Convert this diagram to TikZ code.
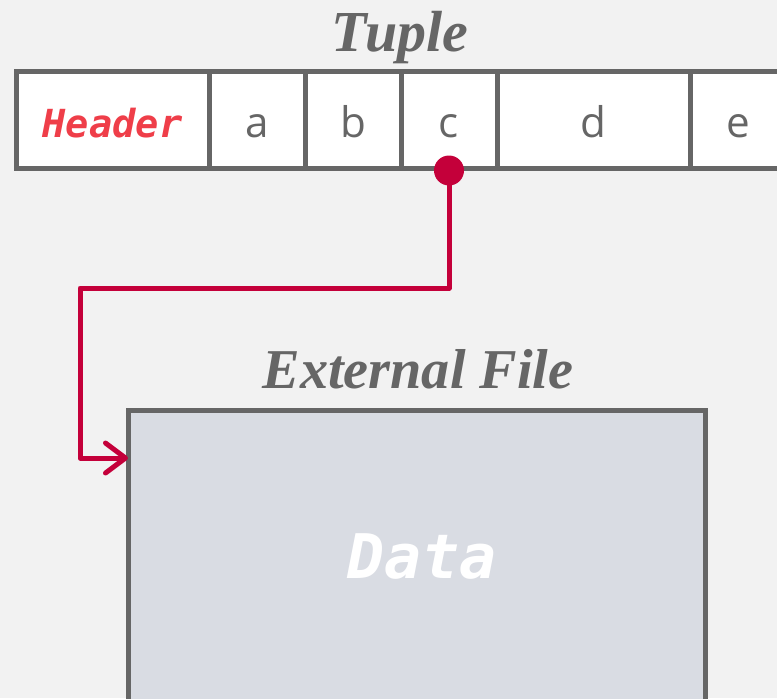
\documentclass[tikz,border=0pt]{standalone}
\usepackage{fontspec}
\setmainfont{Liberation Serif}
\setsansfont{Open Sans}
\setmonofont{DejaVu Sans Mono}[ItalicFont={DejaVu Sans Mono Oblique}, BoldItalicFont={DejaVu Sans Mono Bold Oblique}]
\usetikzlibrary{arrows.meta, positioning, calc}
\definecolor{bggray}{HTML}{F2F2F2}
\definecolor{linegray}{HTML}{666666}
\definecolor{headred}{HTML}{EF3E49}
\definecolor{ptrred}{HTML}{C4003A}
\definecolor{filefill}{HTML}{D9DCE3}

\begin{document}
\begin{tikzpicture}[>={Straight Barb[length=4mm, width=6mm, round]},
  cell/.style={draw=linegray, line width=0.1cm, fill=white, minimum height=1.92cm,
    minimum width=1.92cm, inner sep=0pt, text height=20pt, text depth=0pt,
    text=linegray, font=\sffamily\fontsize{24}{24}\selectfont},
  widecell/.style={cell, minimum width=3.86cm},
  titletext/.style={text=linegray, font=\bfseries\itshape\fontsize{33}{33}\selectfont},
  ptr/.style={draw=ptrred, line width=0.1cm, line join=round}]
% Hintergrund
\useasboundingbox (0,0) rectangle (15.54,13.96);
\fill[bggray] (0,0) rectangle (15.54,13.96);
\clip (0,0) rectangle (15.54,13.96);
% Tupel
\node[titletext, anchor=base] (tupletitle) at (8.0,12.92) {Tuple};
\node[widecell, text=headred, font=\ttfamily\bfseries\itshape\fontsize{22}{22}\selectfont] (hdr) at (2.25,11.56) {Header};
\node[cell] (a) at (5.14,11.56) {a};
\node[cell] (b) at (7.06,11.56) {b};
\node[cell] (c) at (8.98,11.56) {c};
\node[widecell] (d) at (11.87,11.56) {d};
\node[cell] (e) at (14.76,11.56) {e};
% externe Datei
\node[titletext, anchor=base, font=\bfseries\itshape\fontsize{32}{32}\selectfont] (filetitle) at (8.36,6.2) {External File};
\node[draw=linegray, fill=filefill, line width=0.1cm, outer sep=0pt, minimum width=11.54cm,
  minimum height=6.4cm, anchor=north west] (file) at (2.56,5.76) {};
\node[anchor=base, text=white, font=\ttfamily\bfseries\itshape\fontsize{35}{35}\selectfont] (data) at (8.44,2.4) {Data};
% Zeiger
\coordinate (bend) at (1.6,8.2);
\coordinate (entry) at ($(file.north west)+(0,-0.96)$);
\draw[ptr, ->] (c.south) |- (bend) |- (entry);
\node[circle, fill=ptrred, minimum size=0.6cm, inner sep=0pt] (dot) at (c.south) {};
\end{tikzpicture}
\end{document}
